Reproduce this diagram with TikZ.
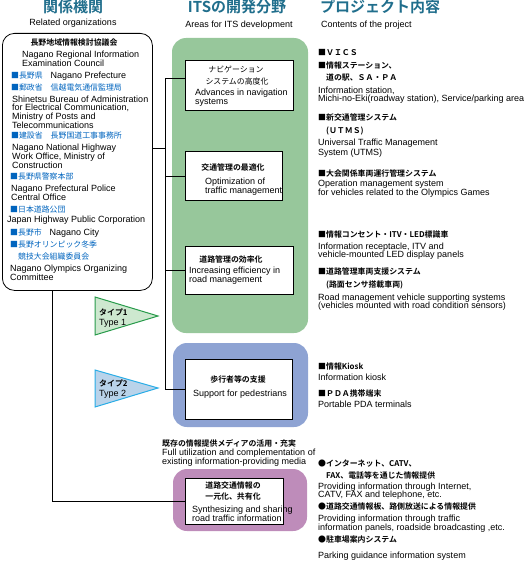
\documentclass[tikz,border=0pt]{standalone}
\usepackage{fontspec}
\setmainfont{Liberation Sans}
\newfontfamily\jp{Noto Sans CJK JP}[BoldFont={Noto Sans CJK JP Bold}]
\usetikzlibrary{positioning}

\definecolor{colortitulo}{RGB}{32,110,140}
\definecolor{azulorg}{RGB}{0,100,190}
\definecolor{verde}{RGB}{151,199,155}
\definecolor{azul}{RGB}{142,163,211}
\definecolor{morado}{RGB}{190,140,186}
\definecolor{tipoverde}{RGB}{205,232,207}
\definecolor{bordeverde}{RGB}{40,155,75}
\definecolor{tipoazul}{RGB}{185,211,234}
\definecolor{bordeazul}{RGB}{40,172,230}

\newcommand{\enf}{\rmfamily\fontsize{9}{10}\selectfont}
\newcommand{\jaf}{\jp\fontsize{7.9}{9}\selectfont}

\begin{document}
\begin{tikzpicture}[x=1pt, y=-1pt,
    en/.style={anchor=base west, inner sep=0pt, yshift=-3.2pt, font=\enf},
    ja/.style={anchor=base west, inner sep=0pt, yshift=-3pt, font=\jaf},
    jb/.style={ja, font=\jaf\bfseries},
    titulo/.style={anchor=base, inner sep=0pt, yshift=-5.5pt, text=colortitulo,
      font=\jp\bfseries\fontsize{15}{15}\selectfont},
    caja/.style={draw, fill=white, line width=0.8pt, inner sep=0pt, anchor=north west},
    linea/.style={line width=0.8pt}]
    \useasboundingbox (0,0) rectangle (529,567);

    % Fondos
    \fill[verde, rounded corners=14pt] (172,38) rectangle (308,333);
    \fill[azul, rounded corners=14pt] (173,343) rectangle (308,427);
    \fill[morado, rounded corners=14pt] (173,469) rectangle (307,531);

    % Tipos
    \filldraw[fill=tipoverde, draw=bordeverde, line width=1pt] (95,297) -- (158,316) -- (95,335) -- cycle;
    \filldraw[fill=tipoazul, draw=bordeazul, line width=1pt] (95,370) -- (158,388) -- (95,407) -- cycle;

    % Cajas
    \node[draw, rounded corners=12pt, line width=0.8pt, inner sep=0pt, anchor=north west,
      minimum width=150pt, minimum height=257pt] (org) at (2,33) {};
    \node[caja, minimum width=108pt, minimum height=50pt] (nav) at (185,60) {};
    \node[caja, minimum width=97pt, minimum height=49pt] (trafico) at (185,151) {};
    \node[caja, minimum width=108pt, minimum height=48pt] (vial) at (185,246) {};
    \node[caja, minimum width=107pt, minimum height=60pt] (peaton) at (185,359) {};
    \node[caja, minimum width=98pt, minimum height=46pt] (info) at (185,478) {};

    % Conexiones
    \coordinate (salida) at (152,148);
    \coordinate (tronco) at (165,78);
    \coordinate (bajada) at (52,290);
    \draw[linea] (tronco -| nav.west) -- (tronco) |- (peaton.west);
    \draw[linea] (salida) -- (salida -| tronco);
    \draw[linea] (tronco |- trafico.west) -- (trafico.west);
    \draw[linea] (tronco |- vial.west) -- (vial.west);
    \draw[linea] (bajada) |- (info.west);

    % Titulos
    \node[titulo] (tit1) at (73,7) {関係機関};
    \node[en, anchor=base] (sub1) at (73,22) {Related organizations};
    \node[titulo] (tit2) at (237,7) {ITSの開発分野};
    \node[en, anchor=base] (sub2) at (239,24) {Areas for ITS development};
    \node[titulo, anchor=base west] (tit3) at (320,7) {プロジェクト内容};
    \node[en] (sub3) at (321,24) {Contents of the project};

    % Organismos
    \node[jb, anchor=base] (orgtit) at (74,43) {長野地域情報検討協議会};
    \node[ja] (pref) at (11,76) {\textcolor{azulorg}{■長野県　}{\enf Nagano Prefecture}};
    \node[ja] (city) at (10,232) {\textcolor{azulorg}{■長野市　}{\enf Nagano City}};
    \foreach \x/\y/\t [count=\i] in {11/88/■郵政省　信越電気通信監理局, 11/136/■建設省　長野国道工事事務所,
        10/176/■長野県警察本部, 10/209/■日本道路公団, 10/244/■長野オリンピック冬季,
        10/256/　競技大会組織委員会}
      \node[ja, text=azulorg] (orgja\i) at (\x,\y) {\t};
    \foreach \x/\y/\t [count=\i] in {22/54/Nagano Regional Information, 22/63/Examination Council,
        12/99/Shinetsu Bureau of Administration, 12/107/{for Electrical Communication,},
        12/116/Ministry of Posts and, 12/125/Telecommunications,
        12/147/Nagano National Highway, 12/156/{Work Office, Ministry of}, 12/165/Construction,
        11/188/Nagano Prefectural Police, 11/197/Central Office,
        7/219/Japan Highway Public Corporation,
        10/268/Nagano Olympics Organizing, 10/277/Committee}
      \node[en] (orgen\i) at (\x,\y) {\t};

    % Tipos
    \node[jb] (tipo1ja) at (99,312) {タイプ1};
    \node[en] (tipo1en) at (99,322) {Type 1};
    \node[jb] (tipo2ja) at (99,383) {タイプ2};
    \node[en] (tipo2en) at (99,393) {Type 2};

    % Areas
    \node[ja, anchor=base] (navja1) at (236,70) {ナビゲーション};
    \node[ja, anchor=base] (navja2) at (237,82) {システムの高度化};
    \node[en] (naven1) at (195,92) {Advances in navigation};
    \node[en] (naven2) at (195,101) {systems};
    \node[jb, anchor=base] (trafja) at (233,167) {交通管理の最適化};
    \node[en] (trafen1) at (205,181) {Optimization of};
    \node[en] (trafen2) at (205,190) {traffic management};
    \node[jb, anchor=base] (vialja) at (231,259) {道路管理の効率化};
    \node[en] (vialen1) at (189,270) {Increasing efficiency in};
    \node[en] (vialen2) at (189,279) {road management};
    \node[jb, anchor=base] (peatja) at (238,379) {歩行者等の支援};
    \node[en, anchor=base] (peaten) at (240,393) {Support for pedestrians};
    \node[jb] (mediaja) at (162,443) {既存の情報提供メディアの活用・充実};
    \node[en] (mediaen1) at (162,452) {Full utilization and complementation of};
    \node[en] (mediaen2) at (162,461) {existing information-providing media};
    \node[jb, anchor=base] (infoja1) at (233,485) {道路交通情報の};
    \node[jb, anchor=base] (infoja2) at (233,496) {一元化、共有化};
    \node[en] (infoen1) at (192,509) {Synthesizing and sharing};
    \node[en] (infoen2) at (192,518) {road traffic information};

    % Contenidos
    \foreach \y/\t [count=\i] in {53/■ＶＩＣＳ, 66/■情報ステーション、, 78/　道の駅、ＳＡ・ＰＡ,
        118/■新交通管理システム, 130/　(ＵＴＭＳ), 173/■大会関係車両運行管理システム,
        234/■情報コンセント・ITV・LED標識車, 271/■道路管理車両支援システム, 284/　(路面センサ搭載車両),
        366/■情報Kiosk, 393/■ＰＤＡ携帯端末, 463/●インターネット、CATV、,
        475/　FAX、電話等を通じた情報提供, 506/●道路交通情報板、路側放送による情報提供,
        539/●駐車場案内システム}
      \node[jb] (conja\i) at (318,\y) {\t};
    \foreach \y/\t [count=\i] in {90/{Information station,},
        98/{Michi-no-Eki(roadway station), Service/parking area},
        142/Universal Traffic Management, 152/System (UTMS),
        183/Operation management system, 192/for vehicles related to the Olympics Games,
        246/{Information receptacle, ITV and}, 254/vehicle-mounted LED display panels,
        297/Road management vehicle supporting systems,
        305/(vehicles mounted with road condition sensors),
        377/Information kiosk, 404/Portable PDA terminals,
        486/{Providing information through Internet,}, 494/{CATV, FAX and telephone, etc.},
        518/Providing information through traffic,
        527/{information panels, roadside broadcasting ,etc.},
        555/Parking guidance information system}
      \node[en] (conen\i) at (318,\y) {\t};

  \end{tikzpicture}
\end{document}
